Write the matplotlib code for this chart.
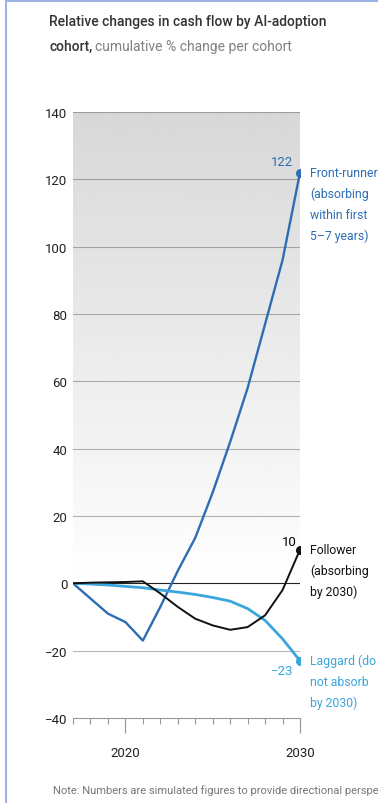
import matplotlib.pyplot as plt
import numpy as np
from matplotlib.lines import Line2D

# data
years = list(range(2017, 2031))
front_runner = [0, -4.5, -9, -11.5, -17, -7, 3.7, 13.5, 27, 42, 58, 77, 96, 122]
follower = [0, 0.2, 0.3, 0.4, 0.6, -3, -7, -10.5, -12.5, -13.8, -13, -9.5, -2, 10]
laggard = [0, -0.2, -0.5, -0.9, -1.3, -2, -2.6, -3.3, -4.2, -5.3, -7.5, -11, -16.5, -23]
yticks = [-40, -20, 0, 20, 40, 60, 80, 100, 120, 140]
xlabels = [2020, 2030]

c_front = '#2c6db4'
c_follow = '#111111'
c_lag = '#3aa6dd'

plt.rcParams['font.family'] = ['Roboto', 'DejaVu Sans']
fs = 8.8

fig = plt.figure(figsize=(3.78, 8.04), dpi=100)
ax = fig.add_axes([73/378, 1-719/804, 227/378, 606/804])

# gray gradient backdrop, light at the bottom, darker at the top
grad = np.linspace(1.0, 0.845, 200).reshape(-1, 1)
ax.imshow(grad, extent=(2017, 2030, -2, 140), aspect='auto', cmap='gray',
          vmin=0, vmax=1, zorder=0, origin='lower', interpolation='bilinear')
ax.set_xlim(2017, 2030)
ax.set_ylim(-40, 140)

for y in yticks[1:]:
    if y == 0:
        ax.axhline(y, color='#222222', lw=0.8, zorder=1)
    else:
        ax.axhline(y, color='#000000', alpha=0.28, lw=0.8, zorder=1)

ax.plot(years, front_runner, color=c_front, lw=1.7, zorder=3)
ax.plot(years, laggard, color=c_lag, lw=2.0, zorder=3)
ax.plot(years, follower, color=c_follow, lw=1.4, zorder=4)
ax.plot(years[-1], front_runner[-1], 'o', color=c_front, ms=5.5, zorder=5)
ax.plot(years[-1], laggard[-1], 'o', color=c_lag, ms=5.5, zorder=5)
ax.plot(years[-1], follower[-1], 'o', color=c_follow, ms=5.5, zorder=5)

for s in ['top', 'right', 'left']:
    ax.spines[s].set_visible(False)
ax.spines['bottom'].set_color('#999999')
ax.spines['bottom'].set_linewidth(0.8)

ax.set_yticks(yticks)
ax.set_yticklabels([str(v).replace('-', '\u2212') for v in yticks], fontsize=9.5, color='#222222')
ax.tick_params(axis='y', length=0, pad=4)
ax.set_xticks(years, minor=True)
ax.set_xticks(xlabels)
ax.set_xticklabels([str(v) for v in xlabels], fontsize=9.5, color='#222222')
ax.tick_params(axis='x', which='major', length=11, width=0.9, color='#999999', pad=9)
ax.tick_params(axis='x', which='minor', length=4, width=0.8, color='#999999')

# end labels, first line level with the end dot
lab_kw = dict(fontsize=fs, va='top', ha='left', linespacing=1.75, clip_on=False)
ax.text(2030.6, front_runner[-1] + 2, 'Front-runner\n(absorbing\nwithin first\n5\u20137 years)', color=c_front, **lab_kw)
ax.text(2030.6, follower[-1] + 2, 'Follower\n(absorbing\nby 2030)', color=c_follow, **lab_kw)
ax.text(2030.6, laggard[-1] + 2, 'Laggard (do\nnot absorb\nby 2030)', color=c_lag, **lab_kw)
ax.text(2029.6, front_runner[-1] + 1.5, str(front_runner[-1]), color=c_front, fontsize=9.5, ha='right', va='bottom')
ax.text(2029.8, follower[-1] + 0.6, str(follower[-1]), color='#000000', fontsize=9.5, ha='right', va='bottom')
ax.text(2029.6, laggard[-1] - 1, '\u2212' + str(abs(laggard[-1])), color=c_lag, fontsize=9.5, ha='right', va='top')

# title
fig.text(49/378, 1-26/804, 'Relative changes in cash flow by AI-adoption', fontsize=10,
         color='#333333', ha='left', va='baseline', weight='medium')
t = fig.text(49/378, 1-51/804, 'cohort,', fontsize=10, color='#333333', ha='left', va='baseline', weight='medium')
fig.canvas.draw()
bb = t.get_window_extent()
fig.text(bb.x1 / fig.bbox.width + 3/378, 1-51/804, 'cumulative % change per cohort', fontsize=10,
         color='#808080', ha='left', va='baseline')

fig.text(53/378, 1-794/804, 'Note: Numbers are simulated figures to provide directional perspective.',
         fontsize=8.0, color='#777777', ha='left', va='baseline')

# frame edge lines like the reference screenshot
fig.add_artist(Line2D([6/378, 6/378], [0, 1-2/804], transform=fig.transFigure, color='#9db5e6', lw=1.5))
fig.add_artist(Line2D([6/378, 1], [1-2/804, 1-2/804], transform=fig.transFigure, color='#9db5e6', lw=1.5))

fig.savefig('out.png', dpi=100)
